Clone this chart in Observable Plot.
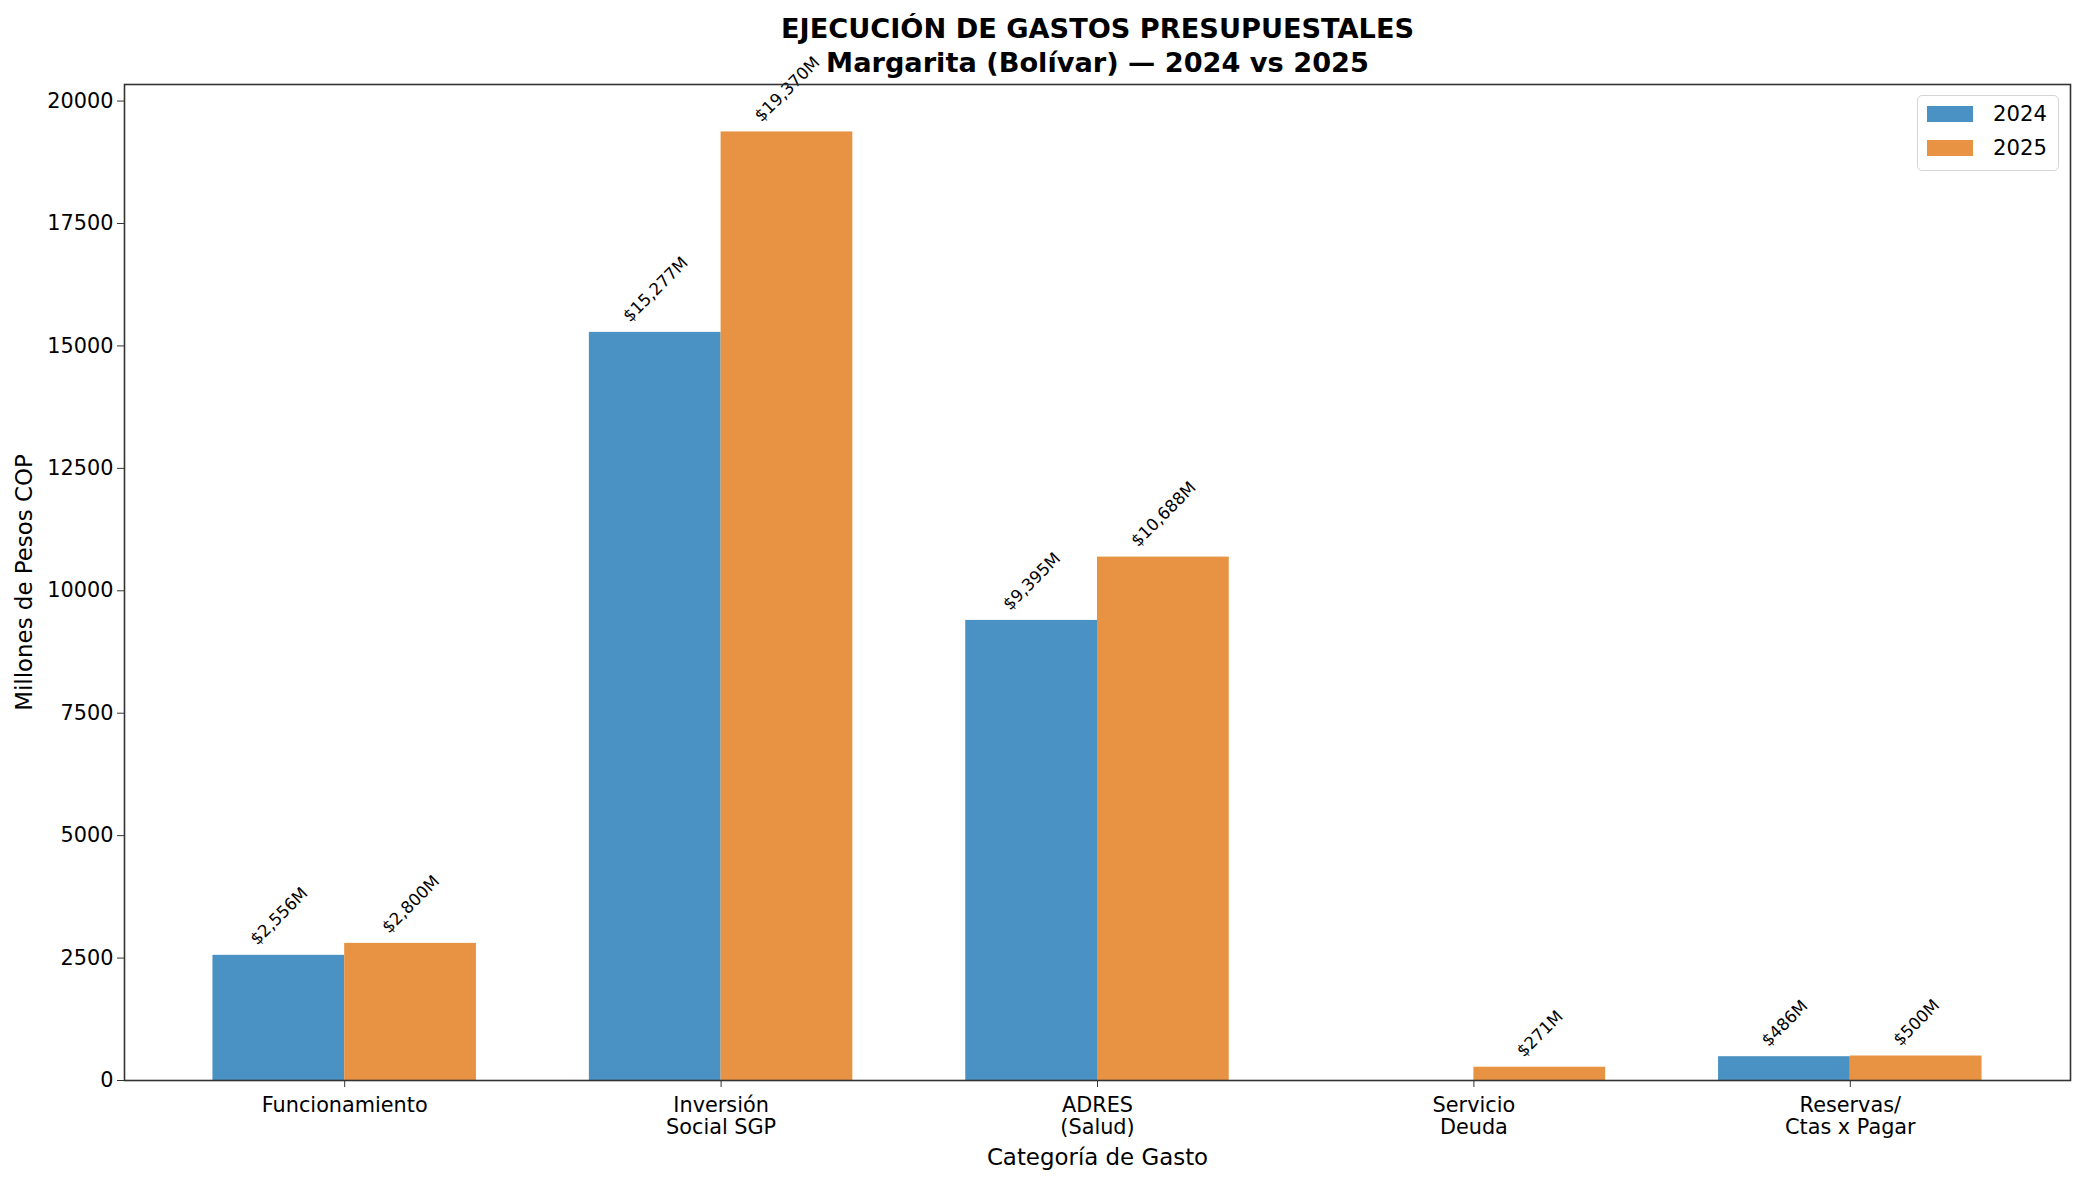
<!DOCTYPE html>
<html>
<head>
<meta charset="utf-8">
<script src="https://cdn.jsdelivr.net/npm/d3@7"></script>
<script src="https://cdn.jsdelivr.net/npm/@observablehq/plot@0.6"></script>
<style>
  body { margin: 0; background: #fff; }
  #wrap { position: relative; width: 2085px; height: 1185px; font-family: "DejaVu Sans", sans-serif; }
  #legend { position: absolute; left: 1917px; top: 95px; width: 140px; height: 74px;
            border: 1.6px solid #d5d5d5; border-radius: 5px; background: rgba(255,255,255,0.8); }
  .sw { position: absolute; left: 9px; width: 46px; height: 16px; }
  .lt { position: absolute; left: 75px; font-size: 21.2px; line-height: 20px; color: #000; }
</style>
</head>
<body>
<div id="wrap"></div>
<script>
// ---- data ----
const categories = ["Funcionamiento", "Inversión\nSocial SGP", "ADRES\n(Salud)", "Servicio\nDeuda", "Reservas/\nCtas x Pagar"];
const years = ["2024", "2025"];
const values2024 = [2556, 15277, 9395, 0, 486];
const values2025 = [2800, 19370, 10688, 271, 500];
const yTicks = [0, 2500, 5000, 7500, 10000, 12500, 15000, 17500, 20000];
const colors = ["#4a92c3", "#e89244"];

const title1 = "EJECUCIÓN DE GASTOS PRESUPUESTALES";
const title2 = "Margarita (Bolívar) — 2024 vs 2025";
const xTitle = "Categoría de Gasto";
const yTitle = "Millones de Pesos COP";

// ---- build table ----
const bw = 0.35;
const rows = [];
categories.forEach((c, i) => {
  rows.push({i, year: years[0], value: values2024[i], x1: i - bw, x2: i});
  rows.push({i, year: years[1], value: values2025[i], x1: i, x2: i + bw});
});
const n = categories.length;
const xSpan = (n - 1) + 2 * bw;
const xDomain = [-bw - 0.05 * xSpan, n - 1 + bw + 0.05 * xSpan];
const yMax = d3.max(rows, d => d.value) * 1.05;

const font = "DejaVu Sans";
const labelSize = 16.7;
const ctx = document.createElement("canvas").getContext("2d");
ctx.font = `${labelSize}px "${font}"`;
const fmt = v => "$" + d3.format(",")(v) + "M";

const labelMarks = rows.filter(d => d.value > 0).map(d => {
  const t = fmt(d.value);
  const w = ctx.measureText(t).width;
  return Plot.text([d], {
    x: r => (r.x1 + r.x2) / 2, y: "value", text: () => t,
    rotate: -45, textAnchor: "start", lineAnchor: "bottom",
    dx: -0.3535 * (w - 0.7 * labelSize), dy: -9.5,
    fontSize: labelSize, fontFamily: font, fill: "#000"
  });
});

const chart = Plot.plot({
  width: 2085, height: 1185,
  marginLeft: 124, marginRight: 15, marginTop: 84, marginBottom: 105,
  style: {fontFamily: font, background: "#fff", color: "#000"},
  x: {type: "linear", domain: xDomain},
  y: {domain: [0, yMax]},
  color: {domain: years, range: colors},
  marks: [
    Plot.rect(rows, {x1: "x1", x2: "x2", y1: 0, y2: "value", fill: "year"}),
    ...labelMarks,
    Plot.frame({stroke: "#333", strokeWidth: 1.6}),
    Plot.axisY({ticks: yTicks, tickFormat: d => String(d), tickSize: 7, tickPadding: 4,
                fontSize: 20.8, stroke: "#333", fill: "#000", label: null}),
    Plot.axisX({ticks: d3.range(n), tickFormat: i => categories[i], tickSize: 7, tickPadding: 8,
                fontSize: 20.8, lineHeight: 1.09, stroke: "#333", fill: "#000", label: null}),
    Plot.text([xTitle], {frameAnchor: "bottom", dy: 77, fontSize: 22.9, fontFamily: font, textAnchor: "middle", lineAnchor: "middle"}),
    Plot.text([yTitle], {frameAnchor: "left", dx: -100, rotate: -90, fontSize: 22.9, fontFamily: font, textAnchor: "middle", lineAnchor: "middle"}),
    Plot.text([title1], {frameAnchor: "top", dy: -55, fontSize: 27.2, fontWeight: "bold", fontFamily: font, textAnchor: "middle", lineAnchor: "middle"}),
    Plot.text([title2], {frameAnchor: "top", dy: -21.5, fontSize: 27.2, fontWeight: "bold", fontFamily: font, textAnchor: "middle", lineAnchor: "middle"})
  ]
});

const wrap = document.getElementById("wrap");
wrap.appendChild(chart);

// legend
const leg = document.createElement("div");
leg.id = "legend";
years.forEach((y, k) => {
  const sw = document.createElement("div");
  sw.className = "sw"; sw.style.top = (10 + k * 34) + "px"; sw.style.background = colors[k];
  const lt = document.createElement("div");
  lt.className = "lt"; lt.style.top = (8 + k * 34) + "px"; lt.textContent = y;
  leg.appendChild(sw); leg.appendChild(lt);
});
wrap.appendChild(leg);
</script>
</body>
</html>
